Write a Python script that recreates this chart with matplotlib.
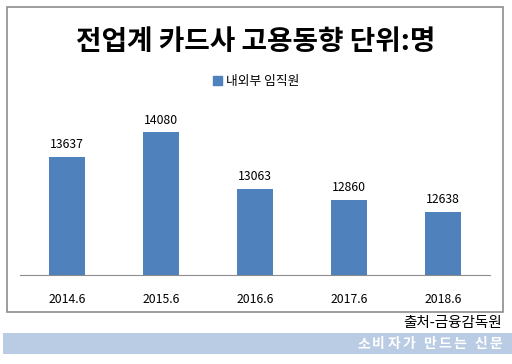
import matplotlib.pyplot as plt
from matplotlib.patches import Rectangle, Patch

plt.rcParams['font.family'] = ['Noto Sans CJK KR', 'DejaVu Sans']

# data
periods = ["2014.6", "2015.6", "2016.6", "2017.6", "2018.6"]
staff = [13637, 14080, 13063, 12860, 12638]
series_name = "내외부 임직원"
title = "전업계 카드사 고용동향 단위:명"
source = "출처-금융감독원"
banner = "소비자가 만드는 신문"

W, H = 512, 364
fig = plt.figure(figsize=(W / 100, H / 100), dpi=100)
fig.patch.set_facecolor("white")

def fx(x):
    return x / W

def fy(y):
    return 1 - y / H

# outer chart frame
fig.patches.append(Rectangle((fx(7), fy(312)), fx(496), (312 - 7) / H,
                             transform=fig.transFigure, fill=False,
                             edgecolor="#8c8c8c", linewidth=1.2))

# banner strip
fig.patches.append(Rectangle((fx(3), fy(354)), fx(509), (354 - 333) / H,
                             transform=fig.transFigure, facecolor="#b9cce4",
                             edgecolor="none"))

ymin, ymax = 11500, 14500
ax = fig.add_axes([fx(20), fy(275), fx(470), (275 - 109) / H])
bars = ax.bar(range(len(periods)), staff, width=0.39, color="#4f81bd")
ax.set_xlim(-0.5, len(periods) - 0.5)
ax.set_ylim(ymin, ymax)
ax.set_xticks(range(len(periods)))
ax.set_xticklabels(periods, fontsize=8.8)
ax.tick_params(axis="x", length=0, pad=13)
ax.set_yticks([])
for s in ["top", "left", "right"]:
    ax.spines[s].set_visible(False)
ax.spines["bottom"].set_color("#8c8c8c")
ax.patch.set_alpha(0)

for i, v in enumerate(staff):
    ax.annotate(str(v), (i, v), xytext=(0, 4), textcoords="offset points",
                ha="center", va="bottom", fontsize=8.8)

fig.text(0.5, fy(42), title, ha="center", va="center", fontsize=20,
         fontweight="bold")
fig.legend(handles=[Patch(color="#4f81bd", label=series_name)],
           loc="center", bbox_to_anchor=(0.5, fy(81)), frameon=False,
           fontsize=9.2, handlelength=0.7, handleheight=0.7, handletextpad=0.3)

fig.text(fx(502), fy(323), source, ha="right", va="center", fontsize=10.5)

# banner text, letter-spaced one glyph at a time from the right edge
x = 502
for ch in reversed(banner):
    if ch == " ":
        x -= 6
        continue
    fig.text(fx(x), fy(344), ch, ha="right", va="center", fontsize=10,
             color="white", fontweight="bold")
    x -= 15

fig.savefig("out.png", dpi=100)
